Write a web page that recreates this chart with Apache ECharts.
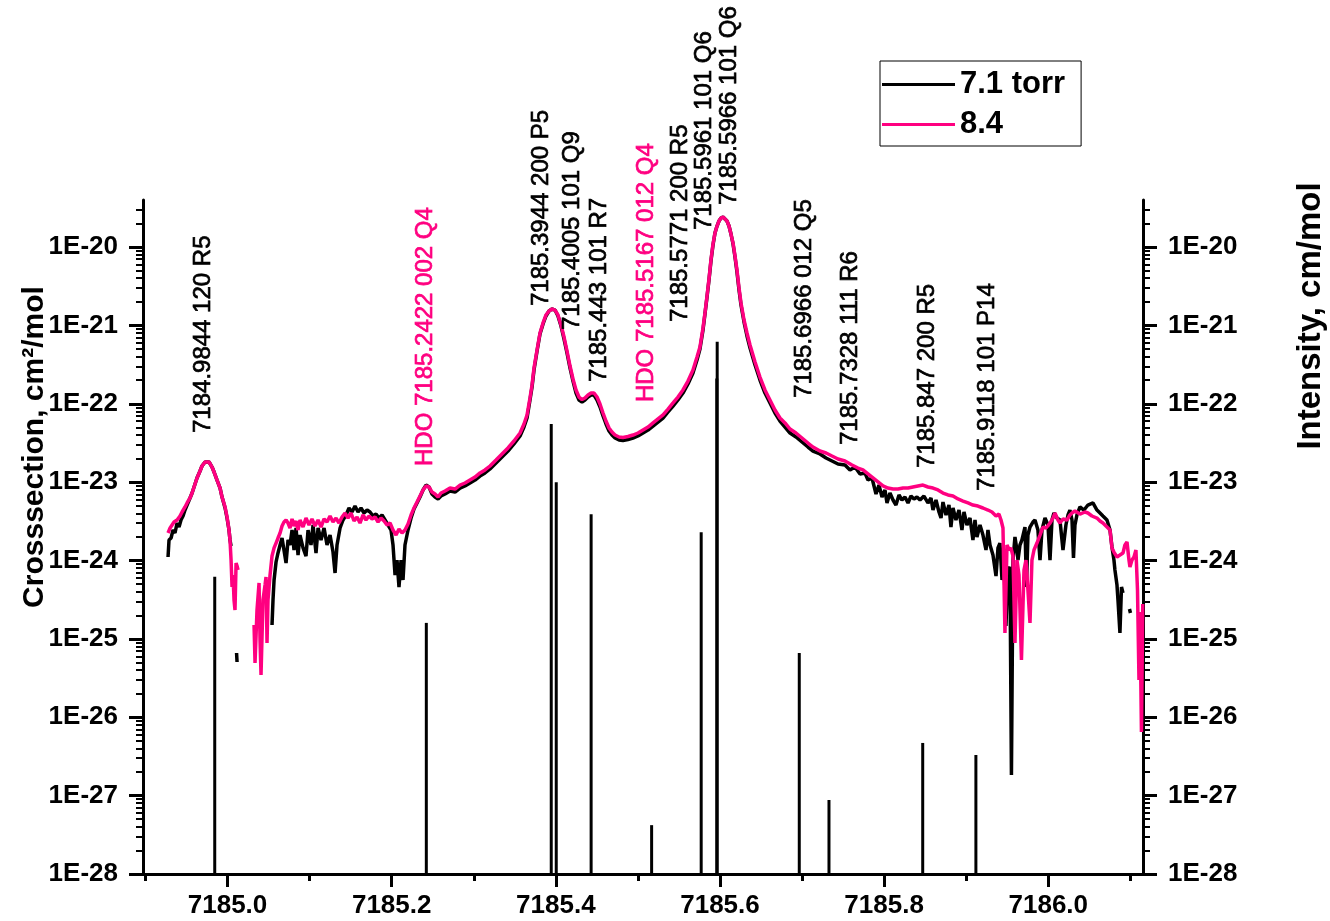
<!DOCTYPE html>
<html>
<head>
<meta charset="utf-8">
<script src="https://cdn.jsdelivr.net/npm/echarts@6/dist/echarts.min.js"></script>
<style>
html,body{margin:0;padding:0;background:#fff;}
#chart{width:1330px;height:921px;}
</style>
</head>
<body>
<div id="chart"></div>
<script>
// Measured spectra: [wavenumber (cm-1), log10 of cross-section (cm2/mol)]; null = no data (gap)
const logXsec71 = [
[7184.9275,-23.955],[7184.9287,-23.738],[7184.9312,-23.713],[7184.9336,-23.611],[7184.9360,-23.649],[7184.9385,-23.522],[7184.9409,-23.573],[7184.9433,-23.483],[7184.9458,-23.432],[7184.9482,-23.356],[7184.9507,-23.292],[7184.9543,-23.202],[7184.9568,-23.139],[7184.9604,-23.024],[7184.9628,-22.947],[7184.9665,-22.858],[7184.9689,-22.794],[7184.9726,-22.743],[7184.9750,-22.718],[7184.9775,-22.743],[7184.9811,-22.807],[7184.9836,-22.871],[7184.9872,-22.973],[7184.9909,-23.075],[7184.9933,-23.190],[7184.9970,-23.330],[7184.9994,-23.458],[7185.0018,-23.611],[7185.0030,-23.738],[7185.0043,-23.815],
null,
[7185.0110,-25.180],[7185.0116,-25.295],
null,
[7185.0542,-24.823],[7185.0554,-24.504],[7185.0567,-24.249],[7185.0591,-24.019],[7185.0615,-23.904],[7185.0640,-23.802],[7185.0664,-23.713],[7185.0688,-23.738],[7185.0713,-24.032],[7185.0737,-23.738],[7185.0761,-23.802],[7185.0786,-23.611],[7185.0810,-23.866],[7185.0835,-23.585],[7185.0859,-23.930],[7185.0883,-23.675],[7185.0920,-23.840],[7185.0956,-23.943],[7185.0981,-23.611],[7185.1017,-23.802],[7185.1042,-23.547],[7185.1078,-23.904],[7185.1103,-23.585],[7185.1139,-23.738],[7185.1176,-23.585],[7185.1212,-23.802],[7185.1249,-23.675],[7185.1285,-23.892],[7185.1310,-24.159],[7185.1334,-23.802],[7185.1371,-23.585],[7185.1407,-23.483],[7185.1444,-23.419],[7185.1480,-23.330],[7185.1517,-23.381],[7185.1553,-23.305],[7185.1590,-23.381],[7185.1626,-23.330],[7185.1663,-23.394],[7185.1700,-23.356],[7185.1736,-23.381],[7185.1773,-23.432],[7185.1809,-23.407],[7185.1846,-23.458],[7185.1882,-23.419],[7185.1919,-23.483],[7185.1955,-23.547],[7185.1992,-23.611],[7185.2016,-23.802],[7185.2041,-24.185],[7185.2065,-23.994],[7185.2089,-24.338],[7185.2114,-23.994],[7185.2138,-24.249],[7185.2162,-23.802],[7185.2199,-23.611],[7185.2236,-23.458],[7185.2272,-23.343],[7185.2309,-23.266],[7185.2345,-23.190],[7185.2382,-23.100],[7185.2418,-23.037],[7185.2455,-23.062],[7185.2491,-23.151],[7185.2528,-23.190],[7185.2565,-23.215],[7185.2601,-23.177],[7185.2650,-23.151],[7185.2711,-23.113],[7185.2772,-23.126],[7185.2833,-23.075],[7185.2893,-23.049],[7185.2954,-23.011],[7185.3015,-22.973],[7185.3076,-22.922],[7185.3137,-22.883],[7185.3198,-22.832],[7185.3271,-22.756],[7185.3344,-22.679],[7185.3417,-22.603],[7185.3490,-22.513],[7185.3564,-22.411],[7185.3612,-22.297],[7185.3649,-22.182],[7185.3685,-21.952],[7185.3710,-21.786],[7185.3734,-21.569],[7185.3771,-21.327],[7185.3807,-21.110],[7185.3844,-20.982],[7185.3880,-20.880],[7185.3917,-20.816],[7185.3953,-20.791],[7185.3990,-20.804],[7185.4026,-20.880],[7185.4063,-21.008],[7185.4100,-21.174],[7185.4136,-21.352],[7185.4173,-21.544],[7185.4209,-21.710],[7185.4246,-21.863],[7185.4282,-21.952],[7185.4319,-21.978],[7185.4355,-21.952],[7185.4392,-21.914],[7185.4429,-21.888],[7185.4465,-21.888],[7185.4502,-21.952],[7185.4538,-22.041],[7185.4575,-22.156],[7185.4611,-22.258],[7185.4648,-22.348],[7185.4684,-22.399],[7185.4721,-22.437],[7185.4770,-22.462],[7185.4818,-22.469],[7185.4879,-22.456],[7185.4940,-22.437],[7185.5001,-22.411],[7185.5062,-22.373],[7185.5123,-22.335],[7185.5184,-22.284],[7185.5245,-22.233],[7185.5306,-22.182],[7185.5367,-22.105],[7185.5428,-22.029],[7185.5488,-21.952],[7185.5549,-21.863],[7185.5610,-21.748],[7185.5671,-21.607],[7185.5720,-21.442],[7185.5756,-21.301],[7185.5793,-21.059],[7185.5817,-20.855],[7185.5842,-20.638],[7185.5866,-20.421],[7185.5890,-20.178],[7185.5915,-19.974],[7185.5939,-19.821],[7185.5964,-19.732],[7185.5988,-19.668],[7185.6012,-19.630],[7185.6037,-19.617],[7185.6061,-19.630],[7185.6085,-19.668],[7185.6110,-19.732],[7185.6134,-19.834],[7185.6159,-19.961],[7185.6183,-20.127],[7185.6207,-20.319],[7185.6232,-20.548],[7185.6256,-20.740],[7185.6293,-20.957],[7185.6329,-21.135],[7185.6366,-21.288],[7185.6427,-21.505],[7185.6487,-21.697],[7185.6548,-21.863],[7185.6609,-21.990],[7185.6670,-22.118],[7185.6731,-22.220],[7185.6792,-22.297],[7185.6853,-22.373],[7185.6926,-22.424],[7185.6999,-22.488],[7185.7072,-22.552],[7185.7133,-22.603],[7185.7218,-22.641],[7185.7292,-22.692],[7185.7365,-22.730],[7185.7438,-22.769],[7185.7523,-22.781],[7185.7584,-22.845],[7185.7645,-22.807],[7185.7706,-22.896],[7185.7767,-22.883],[7185.7803,-22.973],[7185.7852,-22.947],[7185.7901,-23.151],[7185.7937,-23.037],[7185.7974,-23.190],[7185.8010,-23.100],[7185.8035,-23.266],[7185.8071,-23.139],[7185.8108,-23.228],[7185.8144,-23.292],[7185.8181,-23.164],[7185.8217,-23.228],[7185.8254,-23.190],[7185.8291,-23.266],[7185.8327,-23.177],[7185.8364,-23.215],[7185.8400,-23.190],[7185.8437,-23.228],[7185.8485,-23.177],[7185.8534,-23.266],[7185.8571,-23.202],[7185.8595,-23.356],[7185.8632,-23.228],[7185.8668,-23.381],[7185.8693,-23.458],[7185.8717,-23.254],[7185.8754,-23.419],[7185.8790,-23.292],[7185.8814,-23.573],[7185.8839,-23.330],[7185.8875,-23.483],[7185.8912,-23.356],[7185.8948,-23.611],[7185.8973,-23.381],[7185.9009,-23.547],[7185.9046,-23.458],[7185.9082,-23.738],[7185.9107,-23.483],[7185.9131,-23.700],[7185.9168,-23.547],[7185.9204,-23.675],[7185.9241,-23.866],[7185.9265,-23.611],[7185.9290,-23.802],[7185.9326,-23.930],[7185.9363,-24.198],[7185.9387,-23.840],[7185.9411,-23.777],[7185.9436,-24.249],[7185.9460,-23.994],[7185.9484,-24.836],[7185.9509,-24.121],[7185.9533,-24.083],[7185.9551,-26.737],[7185.9570,-23.994],[7185.9594,-23.700],[7185.9618,-23.866],[7185.9631,-23.994],[7185.9655,-23.802],[7185.9679,-23.738],[7185.9716,-23.573],[7185.9734,-24.338],[7185.9752,-23.675],[7185.9777,-23.573],[7185.9813,-23.509],[7185.9838,-23.483],[7185.9874,-23.611],[7185.9899,-23.994],[7185.9923,-23.611],[7185.9960,-23.458],[7185.9996,-23.547],[7186.0021,-23.994],[7186.0045,-23.483],[7186.0069,-23.394],[7186.0106,-23.458],[7186.0142,-23.483],[7186.0179,-23.866],[7186.0215,-23.547],[7186.0240,-23.419],[7186.0264,-23.356],[7186.0289,-23.483],[7186.0307,-23.968],[7186.0325,-23.547],[7186.0349,-23.419],[7186.0386,-23.317],[7186.0435,-23.356],[7186.0483,-23.292],[7186.0544,-23.266],[7186.0593,-23.356],[7186.0630,-23.394],[7186.0666,-23.432],[7186.0715,-23.483],[7186.0752,-23.611],[7186.0776,-23.828],[7186.0800,-23.994],[7186.0812,-24.121],[7186.0837,-24.313],[7186.0849,-24.504],[7186.0873,-24.925],[7186.0892,-24.338],[7186.0910,-24.415],
null,
[7186.0989,-24.619],[7186.1001,-24.670]
];

const logXsec84 = [
[7184.9275,-23.649],[7184.9300,-23.585],[7184.9324,-23.573],[7184.9348,-23.509],[7184.9385,-23.483],[7184.9421,-23.432],[7184.9446,-23.381],[7184.9482,-23.317],[7184.9507,-23.266],[7184.9543,-23.202],[7184.9568,-23.139],[7184.9604,-23.024],[7184.9628,-22.947],[7184.9665,-22.858],[7184.9689,-22.794],[7184.9726,-22.743],[7184.9750,-22.718],[7184.9775,-22.743],[7184.9811,-22.807],[7184.9836,-22.871],[7184.9872,-22.973],[7184.9909,-23.075],[7184.9933,-23.190],[7184.9970,-23.317],[7184.9994,-23.445],[7185.0018,-23.611],[7185.0030,-23.738],[7185.0043,-23.994],[7185.0055,-24.338],[7185.0067,-24.185],[7185.0079,-24.504],[7185.0091,-24.632],[7185.0104,-24.032],[7185.0116,-24.070],[7185.0128,-24.121],
null,
[7185.0323,-24.823],[7185.0335,-25.308],[7185.0359,-24.632],[7185.0384,-24.287],[7185.0396,-25.014],[7185.0408,-25.461],[7185.0432,-24.504],[7185.0457,-24.313],[7185.0469,-24.211],[7185.0481,-25.053],[7185.0493,-24.504],[7185.0518,-24.185],[7185.0542,-23.943],[7185.0567,-23.840],[7185.0591,-23.777],[7185.0615,-23.713],[7185.0640,-23.649],[7185.0664,-23.560],[7185.0688,-23.509],[7185.0713,-23.483],[7185.0737,-23.522],[7185.0761,-23.585],[7185.0786,-23.470],[7185.0810,-23.560],[7185.0835,-23.496],[7185.0859,-23.611],[7185.0883,-23.483],[7185.0920,-23.573],[7185.0956,-23.458],[7185.0993,-23.547],[7185.1029,-23.470],[7185.1066,-23.560],[7185.1103,-23.483],[7185.1139,-23.573],[7185.1176,-23.470],[7185.1212,-23.509],[7185.1249,-23.432],[7185.1285,-23.509],[7185.1322,-23.458],[7185.1358,-23.522],[7185.1395,-23.445],[7185.1432,-23.394],[7185.1468,-23.458],[7185.1505,-23.394],[7185.1541,-23.496],[7185.1578,-23.445],[7185.1614,-23.522],[7185.1651,-23.419],[7185.1687,-23.483],[7185.1724,-23.432],[7185.1760,-23.470],[7185.1797,-23.445],[7185.1834,-23.509],[7185.1870,-23.458],[7185.1907,-23.496],[7185.1943,-23.547],[7185.1980,-23.522],[7185.2016,-23.611],[7185.2053,-23.675],[7185.2089,-23.598],[7185.2126,-23.649],[7185.2162,-23.611],[7185.2199,-23.534],[7185.2236,-23.419],[7185.2272,-23.330],[7185.2309,-23.254],[7185.2345,-23.177],[7185.2382,-23.100],[7185.2418,-23.049],[7185.2455,-23.062],[7185.2491,-23.126],[7185.2528,-23.151],[7185.2565,-23.190],[7185.2601,-23.139],[7185.2650,-23.113],[7185.2711,-23.075],[7185.2772,-23.088],[7185.2833,-23.037],[7185.2893,-23.011],[7185.2954,-22.973],[7185.3015,-22.935],[7185.3076,-22.883],[7185.3137,-22.845],[7185.3198,-22.794],[7185.3271,-22.718],[7185.3344,-22.641],[7185.3417,-22.564],[7185.3490,-22.475],[7185.3564,-22.373],[7185.3612,-22.258],[7185.3649,-22.143],[7185.3685,-21.926],[7185.3710,-21.761],[7185.3734,-21.544],[7185.3771,-21.314],[7185.3807,-21.097],[7185.3844,-20.969],[7185.3880,-20.867],[7185.3917,-20.816],[7185.3953,-20.791],[7185.3990,-20.804],[7185.4026,-20.867],[7185.4063,-20.995],[7185.4100,-21.148],[7185.4136,-21.327],[7185.4173,-21.518],[7185.4209,-21.684],[7185.4246,-21.824],[7185.4282,-21.914],[7185.4319,-21.946],[7185.4355,-21.926],[7185.4392,-21.888],[7185.4429,-21.863],[7185.4465,-21.863],[7185.4502,-21.914],[7185.4538,-22.003],[7185.4575,-22.118],[7185.4611,-22.220],[7185.4648,-22.309],[7185.4684,-22.360],[7185.4721,-22.399],[7185.4770,-22.424],[7185.4818,-22.431],[7185.4879,-22.418],[7185.4940,-22.399],[7185.5001,-22.373],[7185.5062,-22.335],[7185.5123,-22.297],[7185.5184,-22.245],[7185.5245,-22.194],[7185.5306,-22.143],[7185.5367,-22.067],[7185.5428,-21.990],[7185.5488,-21.914],[7185.5549,-21.824],[7185.5610,-21.710],[7185.5671,-21.569],[7185.5720,-21.403],[7185.5756,-21.276],[7185.5793,-21.033],[7185.5817,-20.842],[7185.5842,-20.625],[7185.5866,-20.408],[7185.5890,-20.166],[7185.5915,-19.961],[7185.5939,-19.821],[7185.5964,-19.732],[7185.5988,-19.668],[7185.6012,-19.630],[7185.6037,-19.617],[7185.6061,-19.630],[7185.6085,-19.668],[7185.6110,-19.732],[7185.6134,-19.834],[7185.6159,-19.949],[7185.6183,-20.115],[7185.6207,-20.293],[7185.6232,-20.523],[7185.6256,-20.714],[7185.6293,-20.931],[7185.6329,-21.097],[7185.6366,-21.250],[7185.6427,-21.467],[7185.6487,-21.659],[7185.6548,-21.824],[7185.6609,-21.952],[7185.6670,-22.080],[7185.6731,-22.182],[7185.6792,-22.245],[7185.6853,-22.322],[7185.6926,-22.373],[7185.6999,-22.437],[7185.7072,-22.501],[7185.7133,-22.552],[7185.7218,-22.603],[7185.7292,-22.628],[7185.7365,-22.667],[7185.7438,-22.705],[7185.7523,-22.730],[7185.7608,-22.781],[7185.7681,-22.820],[7185.7742,-22.845],[7185.7803,-22.896],[7185.7864,-22.947],[7185.7925,-22.998],[7185.7986,-23.049],[7185.8047,-23.075],[7185.8108,-23.088],[7185.8169,-23.088],[7185.8230,-23.075],[7185.8291,-23.075],[7185.8351,-23.062],[7185.8412,-23.049],[7185.8473,-23.037],[7185.8534,-23.062],[7185.8595,-23.075],[7185.8656,-23.100],[7185.8717,-23.139],[7185.8778,-23.164],[7185.8839,-23.177],[7185.8900,-23.215],[7185.8961,-23.241],[7185.9022,-23.266],[7185.9082,-23.292],[7185.9143,-23.305],[7185.9204,-23.330],[7185.9265,-23.356],[7185.9314,-23.381],[7185.9363,-23.432],[7185.9399,-23.407],[7185.9424,-23.483],[7185.9448,-23.585],[7185.9472,-24.925],[7185.9497,-23.802],[7185.9521,-23.866],[7185.9545,-23.840],[7185.9570,-23.943],[7185.9594,-25.053],[7185.9618,-23.994],[7185.9643,-24.185],[7185.9673,-25.270],[7185.9704,-24.121],[7185.9728,-23.994],[7185.9752,-24.376],[7185.9777,-24.797],[7185.9801,-23.994],[7185.9826,-23.866],[7185.9862,-23.777],[7185.9899,-23.675],[7185.9935,-23.573],[7185.9972,-23.585],[7186.0021,-23.522],[7186.0057,-23.458],[7186.0081,-23.394],[7186.0118,-23.483],[7186.0142,-23.522],[7186.0179,-23.470],[7186.0228,-23.483],[7186.0264,-23.419],[7186.0289,-23.394],[7186.0325,-23.368],[7186.0349,-23.356],[7186.0386,-23.407],[7186.0410,-23.419],[7186.0447,-23.381],[7186.0483,-23.394],[7186.0532,-23.432],[7186.0593,-23.458],[7186.0630,-23.496],[7186.0666,-23.522],[7186.0703,-23.560],[7186.0752,-23.611],[7186.0776,-23.840],[7186.0800,-23.892],[7186.0837,-23.955],[7186.0873,-23.930],[7186.0910,-23.904],[7186.0934,-23.802],[7186.0959,-23.764],[7186.0983,-23.994],[7186.0995,-24.083],[7186.1020,-23.994],[7186.1044,-23.955],[7186.1068,-23.866],[7186.1087,-24.376],[7186.1105,-25.525],[7186.1117,-24.657],[7186.1135,-26.188],[7186.1151,-24.555]
];

// Line list (stick spectrum): centre wavenumber, intensity (cm/mol)
const lineCenters   = [7184.9844, 7185.2422, 7185.3944, 7185.4005, 7185.443, 7185.5167, 7185.5771, 7185.5961, 7185.5966, 7185.6966, 7185.7328, 7185.847, 7185.9118];
const lineIntensity = [6.2e-25, 1.6e-25, 5.5e-23, 1.0e-23, 3.9e-24, 4.2e-28, 2.3e-24, 2.1e-22, 6.2e-22, 6.6e-26, 8.8e-28, 4.7e-27, 3.3e-27];
const lineLabels = [
  '7184.9844 120 R5', 'HDO 7185.2422 002 Q4', '7185.3944 200 P5', '7185.4005 101 Q9',
  '7185.443 101 R7', 'HDO 7185.5167 012 Q4', '7185.5771 200 R5', '7185.5961 101 Q6',
  '7185.5966 101 Q6', '7185.6966 012 Q5', '7185.7328 111 R6', '7185.847 200 R5', '7185.9118 101 P14'
];
const lineIsHDO = [false, true, false, false, false, true, false, false, false, false, false, false, false];

// Axis ticks
const xMajorTicks = [7185.0, 7185.2, 7185.4, 7185.6, 7185.8, 7186.0];
const xMinorTicks = [7184.9, 7185.1, 7185.3, 7185.5, 7185.7, 7185.9, 7186.1];
const yDecades = [-28, -27, -26, -25, -24, -23, -22, -21, -20];

// Placement of the rotated line annotations: [wavenumber at text baseline side, log10 level of text start]
const labelAnchors = [
  [7184.9848, -22.373], [7185.2553, -22.794], [7185.3966, -20.753], [7185.4344, -21.059],
  [7185.4673, -21.722], [7185.5245, -21.978], [7185.5660, -20.957], [7185.5952, -19.783],
  [7185.6256, -19.464], [7185.7170, -21.926], [7185.7731, -22.526], [7185.8669, -22.820],
  [7185.9400, -23.113]
];

const X_MIN = 7184.897, X_MAX = 7186.1154;
const Y_MIN = -28, Y_MAX = -19.4;
const FONT = '"Liberation Sans", Arial, Helvetica, sans-serif';
const PINK = '#FF0080';

const yMinorTicks = [];
yDecades.forEach(d => {
  for (let k = 2; k <= 9; k++) {
    const v = d + Math.log10(k);
    if (v < Y_MAX) yMinorTicks.push(v);
  }
});

const toLine = arr => arr.map(p => p ? [p[0], p[1]] : ['-', '-']);

const chart = echarts.init(document.getElementById('chart'), null, {renderer: 'canvas'});

const tickLabelStyle = {
  color: '#000', fontSize: 26, fontWeight: 'bold', fontFamily: FONT
};

function yAxisMajor(position) {
  return {
    type: 'value', position: position, min: Y_MIN, max: Y_MAX,
    axisLine: {show: true, onZero: false, lineStyle: {color: '#000', width: 3}},
    axisTick: {show: true, inside: false, length: 14, lineStyle: {color: '#000', width: 3}, customValues: yDecades},
    axisLabel: Object.assign({show: true, margin: 25, customValues: yDecades, formatter: v => '1E' + Math.round(v)}, tickLabelStyle),
    splitLine: {show: false}
  };
}
function yAxisMinor(position) {
  return {
    type: 'value', position: position, min: Y_MIN, max: Y_MAX,
    axisLine: {show: false},
    axisTick: {show: true, inside: false, length: 7, lineStyle: {color: '#000', width: 2}, customValues: yMinorTicks},
    axisLabel: {show: false},
    splitLine: {show: false}
  };
}

const option = {
  animation: false,
  backgroundColor: '#fff',
  grid: {left: 143, right: 187, top: 200, bottom: 47, containLabel: false},
  legend: {
    data: ['7.1 torr', '8.4'],
    orient: 'vertical', left: 880, top: 61,
    icon: 'rect', itemWidth: 73, itemHeight: 3, itemGap: 9,
    padding: [8, 16, 6, 2],
    borderColor: '#000', borderWidth: 1,
    textStyle: {color: '#000', fontSize: 31, fontWeight: 'bold', fontFamily: FONT}
  },
  xAxis: [
    {
      type: 'value', position: 'bottom', min: X_MIN, max: X_MAX,
      axisLine: {show: true, onZero: false, lineStyle: {color: '#000', width: 3}},
      axisTick: {show: true, inside: false, length: 13, lineStyle: {color: '#000', width: 3}, customValues: xMajorTicks},
      axisLabel: Object.assign({show: true, margin: 19, customValues: xMajorTicks, formatter: v => v.toFixed(1)}, tickLabelStyle),
      splitLine: {show: false}
    },
    {
      type: 'value', position: 'bottom', min: X_MIN, max: X_MAX,
      axisLine: {show: false},
      axisTick: {show: true, inside: false, length: 7, lineStyle: {color: '#000', width: 3}, customValues: xMinorTicks},
      axisLabel: {show: false},
      splitLine: {show: false}
    }
  ],
  yAxis: [yAxisMajor('left'), yAxisMajor('right'), yAxisMinor('left'), yAxisMinor('right')],
  graphic: [
    {
      type: 'text', x: 35, y: 447, rotation: Math.PI / 2,
      style: {text: 'Crosssection, cm\u00B2/mol', fill: '#000', font: 'bold 30px ' + FONT, align: 'center', verticalAlign: 'middle'}
    },
    {
      type: 'text', x: 1311, y: 316, rotation: Math.PI / 2,
      style: {text: 'Intensity, cm/mol', fill: '#000', font: 'bold 33px ' + FONT, align: 'center', verticalAlign: 'middle'}
    }
  ],
  series: [
    {
      // stick spectrum on the intensity axis
      type: 'custom', name: 'lines', xAxisIndex: 0, yAxisIndex: 1, z: 1, silent: true,
      data: lineCenters.map((c, i) => [c, Math.log10(lineIntensity[i])]),
      renderItem: (params, api) => {
        const top = api.coord([api.value(0), api.value(1)]);
        const base = api.coord([api.value(0), Y_MIN]);
        return {
          type: 'line',
          shape: {x1: top[0], y1: top[1], x2: base[0], y2: base[1]},
          style: {stroke: '#000', lineWidth: 3}
        };
      }
    },
    {
      name: '7.1 torr', type: 'line', xAxisIndex: 0, yAxisIndex: 0, z: 2,
      data: toLine(logXsec71), showSymbol: false, symbol: 'none', connectNulls: false,
      lineStyle: {color: '#000', width: 3.5}, itemStyle: {color: '#000'}
    },
    {
      name: '8.4', type: 'line', xAxisIndex: 0, yAxisIndex: 0, z: 3,
      data: toLine(logXsec84), showSymbol: false, symbol: 'none', connectNulls: false,
      lineStyle: {color: PINK, width: 3.5}, itemStyle: {color: PINK}
    },
    {
      // rotated line assignments (medium weight: regular face with a thin outline)
      type: 'custom', name: 'assignments', xAxisIndex: 0, yAxisIndex: 0, z: 4, silent: true, clip: false,
      data: labelAnchors.map((a, i) => [a[0], a[1], i]),
      renderItem: (params, api) => {
        const i = api.value(2);
        const p = api.coord([api.value(0), api.value(1)]);
        const c = lineIsHDO[i] ? PINK : '#000';
        return {
          type: 'text', x: p[0], y: p[1], rotation: Math.PI / 2,
          style: {
            text: lineLabels[i], fill: c, stroke: c, lineWidth: 0.7,
            font: '24px ' + FONT, align: 'left', verticalAlign: 'bottom'
          }
        };
      }
    }
  ]
};

chart.setOption(option);
</script>
</body>
</html>
